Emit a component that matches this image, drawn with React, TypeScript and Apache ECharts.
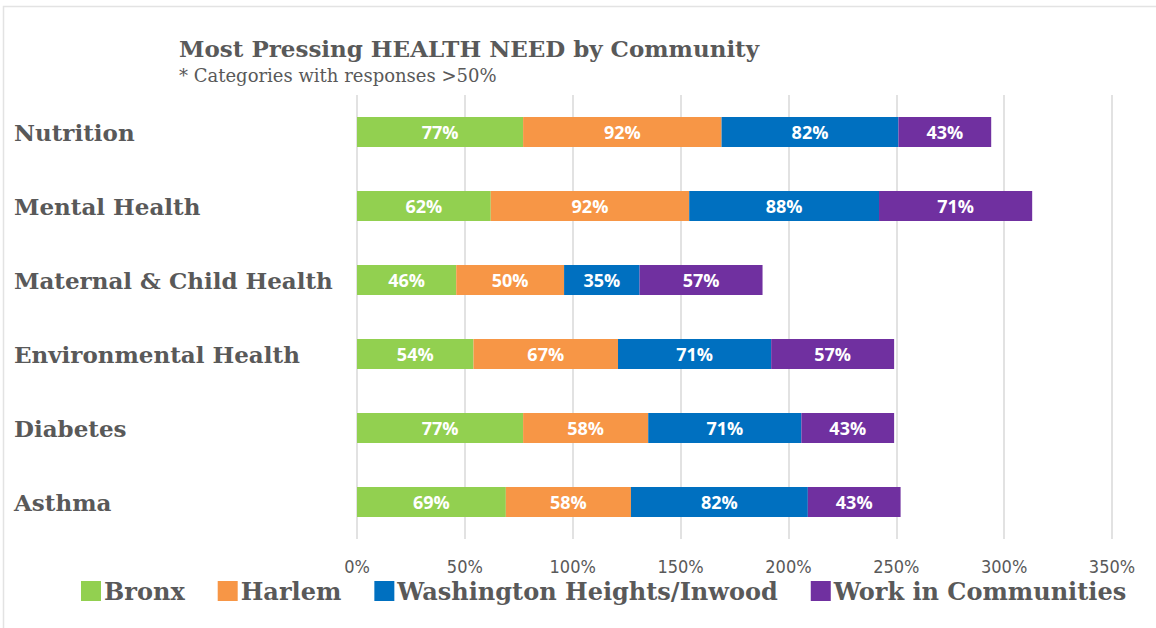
import React, { useEffect, useRef } from "react";
import * as echarts from "echarts";

const categories = ["Nutrition", "Mental Health", "Maternal & Child Health", "Environmental Health", "Diabetes", "Asthma"];
const seriesNames = ["Bronx", "Harlem", "Washington Heights/Inwood", "Work in Communities"];
const bronx = [77, 62, 46, 54, 77, 69];
const harlem = [92, 92, 50, 67, 58, 58];
const washHeights = [82, 88, 35, 71, 71, 82];
const workInCommunities = [43, 71, 57, 57, 43, 43];
const colors = ["#92D050", "#F79646", "#0070C0", "#7030A0"];
const xTicks = [0, 50, 100, 150, 200, 250, 300, 350];

const SERIF = "'DejaVu Serif', serif";

export default function App() {
  const ref = useRef<HTMLDivElement>(null);
  useEffect(() => {
    const chart = echarts.init(ref.current!, null, { renderer: "svg" });
    const values = [bronx, harlem, washHeights, workInCommunities];
    const cats = [...categories].reverse();
    chart.setOption({
      animation: false,
      backgroundColor: "#ffffff",
      title: {
        text: "Most Pressing HEALTH NEED by Community",
        subtext: "* Categories with responses >50%",
        left: 174,
        top: 32,
        itemGap: 6,
        textStyle: { fontFamily: SERIF, fontWeight: "bold", fontSize: 23, color: "#595959" },
        subtextStyle: { fontFamily: SERIF, fontWeight: "normal", fontSize: 18, color: "#595959" },
      },
      legend: {
        data: seriesNames,
        bottom: 20,
        left: 76,
        itemWidth: 20,
        itemHeight: 20,
        itemGap: 33,
        icon: "rect",
        textStyle: { fontFamily: SERIF, fontWeight: "bold", fontSize: 24, color: "#595959", padding: [0, 0, 0, -2] },
      },
      graphic: [
        {
          type: "rect",
          shape: { x: 3.5, y: 6.5, width: 1160, height: 640 },
          style: { fill: "none", stroke: "#e3e3e3", lineWidth: 1.5 },
          silent: true,
        },
      ],
      grid: { left: 357, right: 44, top: 95, bottom: 89, containLabel: false },
      xAxis: {
        type: "value",
        min: 0,
        max: 350,
        interval: 50,
        axisLine: { show: false },
        axisTick: { show: false },
        splitLine: { lineStyle: { color: "#d9d9d9", width: 1.5 } },
        axisLabel: {
          formatter: (v: number) => (xTicks.includes(v) ? v + "%" : ""),
          fontFamily: "'Liberation Sans Narrow', 'DejaVu Sans Condensed', 'Liberation Sans', sans-serif",
          fontSize: 18,
          color: "#595959",
          margin: 18,
        },
      },
      yAxis: {
        type: "category",
        data: cats,
        axisLine: { show: false },
        axisTick: { show: false },
        axisLabel: {
          align: "left",
          margin: 343,
          fontFamily: SERIF,
          fontWeight: "bold",
          fontSize: 23,
          color: "#595959",
        },
      },
      series: values.map((arr, i) => ({
        name: seriesNames[i],
        type: "bar",
        stack: "total",
        barWidth: 30,
        data: [...arr].reverse(),
        itemStyle: { color: colors[i] },
        label: {
          show: true,
          position: "inside",
          formatter: (p: any) => p.value + "%",
          color: "#ffffff",
          fontFamily: "'Open Sans', sans-serif",
          fontWeight: "bold",
          fontSize: 18,
        },
      })),
    });
    return () => chart.dispose();
  }, []);
  return (
    <div
      ref={ref}
      style={{ position: "absolute", left: 0, top: 0, width: 1156, height: 628 }}
    />
  );
}
